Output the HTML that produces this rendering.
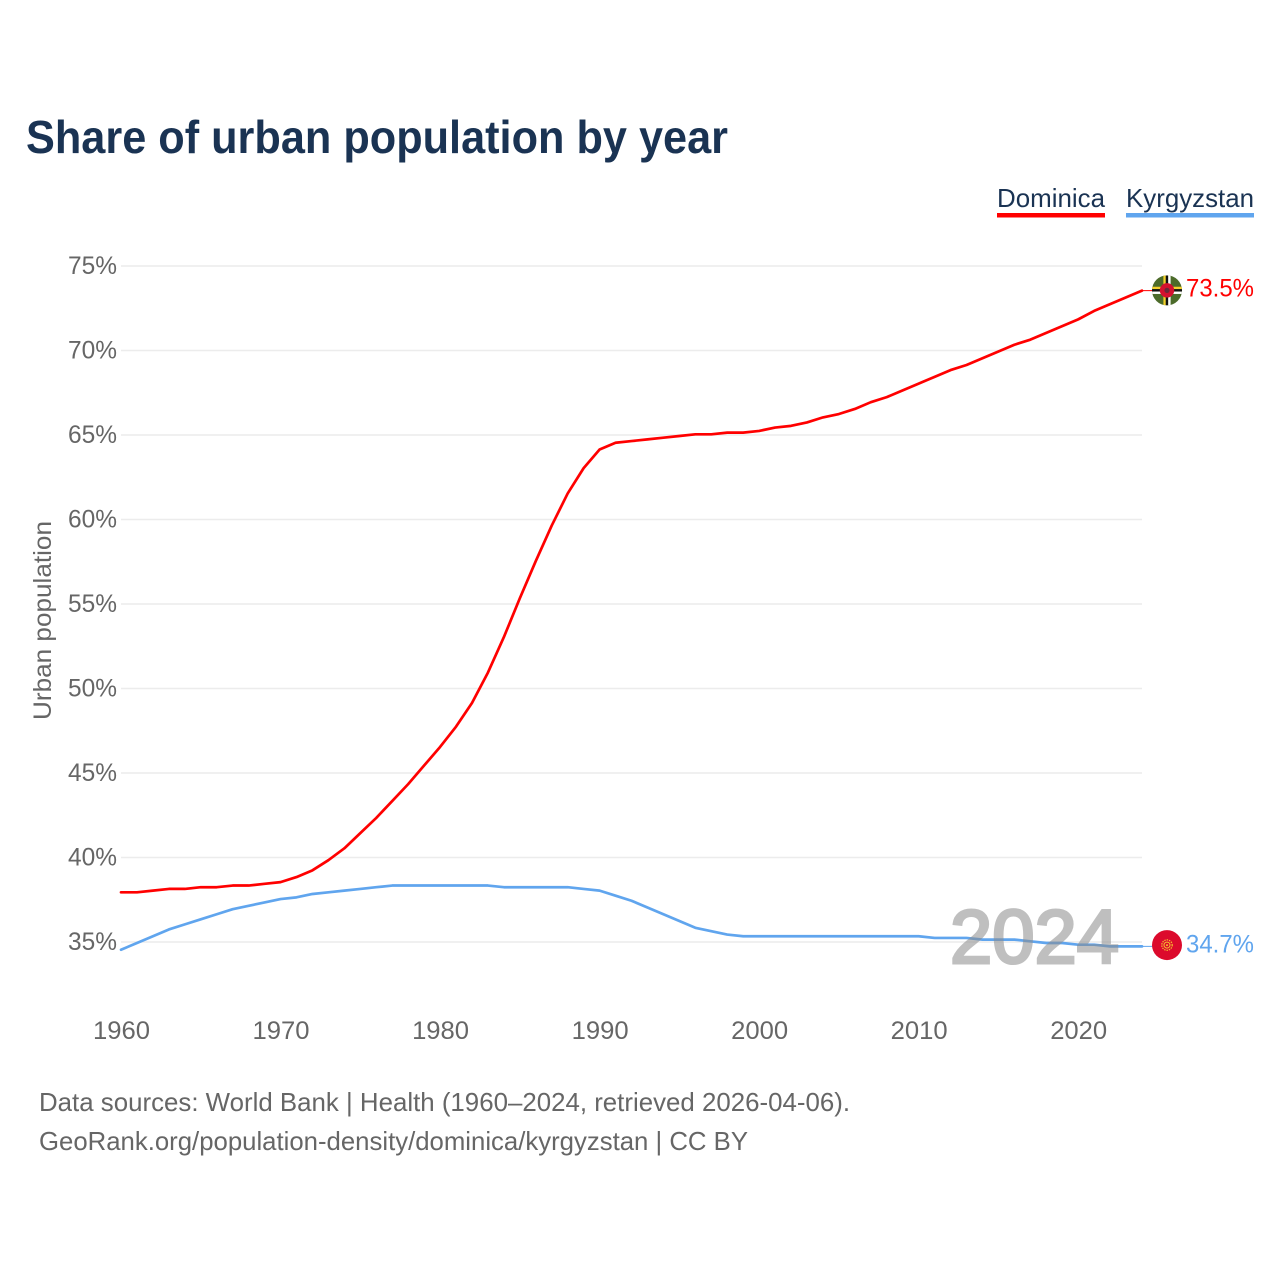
<!DOCTYPE html>
<html lang="en">
<head>
<meta charset="utf-8">
<title>Share of urban population by year</title>
<style>
html,body{margin:0;padding:0;background:#fff;width:1280px;height:1280px;overflow:hidden}
svg{display:block}
text{font-family:"Liberation Sans",sans-serif}
</style>
</head>
<body>
<svg id="chart" width="1280" height="1280" viewBox="0 0 1280 1280" xmlns="http://www.w3.org/2000/svg">
  <rect x="0" y="0" width="1280" height="1280" fill="#fff"/>
  <text x="26" y="153" font-size="46" font-weight="700" fill="#1a3353" textLength="702" lengthAdjust="spacingAndGlyphs">Share of urban population by year</text>

  <g>
    <g>
      <text x="997" y="207" font-size="26" fill="#1a3353" textLength="108" lengthAdjust="spacingAndGlyphs">Dominica</text>
      <rect x="997" y="213" width="108" height="4.5" fill="#ff0000"/>
    </g>
    <g>
      <text x="1126" y="207" font-size="26" fill="#1a3353" textLength="128" lengthAdjust="spacingAndGlyphs">Kyrgyzstan</text>
      <rect x="1126" y="213" width="128" height="4.5" fill="#60a5ee"/>
    </g>
  </g>

  <g id="grid"></g>
  <g id="yticks"></g>
  <g id="xticks"></g>
  <text transform="translate(51 720) rotate(-90)" font-size="25" fill="#666" textLength="199" lengthAdjust="spacingAndGlyphs">Urban population</text>

  <g id="series" transform="translate(0 -0.7)"></g>

  <text x="950" y="963" font-size="76" font-weight="400" fill="#8c8c8c" stroke="#8c8c8c" stroke-width="3" opacity="0.55" textLength="169" lengthAdjust="spacingAndGlyphs">2024</text>

  <g id="flagDominica">
    <clipPath id="clipDm"><circle cx="0" cy="0" r="15"/></clipPath>
    <g clip-path="url(#clipDm)">
      <rect x="-15" y="-15" width="30" height="30" fill="#4c6b2a"/>
      <rect x="-15" y="-3.6" width="30" height="2.4" fill="#f4d02c"/>
      <rect x="-15" y="-1.2" width="30" height="2.4" fill="#111"/>
      <rect x="-15" y="1.2" width="30" height="2.4" fill="#fff"/>
      <rect x="-3.6" y="-15" width="2.4" height="30" fill="#f4d02c"/>
      <rect x="-1.2" y="-15" width="2.4" height="30" fill="#111"/>
      <rect x="1.2" y="-15" width="2.4" height="30" fill="#fff"/>
      <circle cx="0" cy="0" r="7.2" fill="#d4112f"/>
      <circle cx="0" cy="0" r="2.6" fill="#6b2a3a"/>
    </g>
  </g>
  <g id="flagKyrgyzstan">
    <circle cx="0" cy="0" r="15" fill="#dc0a2c"/>
    <circle cx="0" cy="0" r="5.2" fill="none" stroke="#f6c52e" stroke-width="1.2" stroke-dasharray="1.4 1"/>
    <circle cx="0" cy="0" r="3" fill="none" stroke="#f6c52e" stroke-width="1"/>
    <circle cx="0" cy="0" r="1" fill="#f6c52e"/>
  </g>

  <text id="labelDominica" x="1186" font-size="25" fill="#ff0000" textLength="68" lengthAdjust="spacingAndGlyphs">73.5%</text>
  <text id="labelKyrgyzstan" x="1186" font-size="25" fill="#60a5ee" textLength="68" lengthAdjust="spacingAndGlyphs">34.7%</text>

  <text x="39" y="1111" font-size="26" fill="#666" textLength="811" lengthAdjust="spacingAndGlyphs">Data sources: World Bank | Health (1960–2024, retrieved 2026-04-06).</text>
  <a><text x="39" y="1150" font-size="26" fill="#666" textLength="709" lengthAdjust="spacingAndGlyphs">GeoRank.org/population-density/dominica/kyrgyzstan | CC BY</text></a>
</svg>
<script>
var startYear = 1960;
var dominica = [37.9,37.9,38.0,38.1,38.1,38.2,38.2,38.3,38.3,38.4,38.5,38.8,39.2,39.8,40.5,41.4,42.3,43.3,44.3,45.4,46.5,47.7,49.1,50.9,53.0,55.3,57.5,59.6,61.5,63.0,64.1,64.5,64.6,64.7,64.8,64.9,65.0,65.0,65.1,65.1,65.2,65.4,65.5,65.7,66.0,66.2,66.5,66.9,67.2,67.6,68.0,68.4,68.8,69.1,69.5,69.9,70.3,70.6,71.0,71.4,71.8,72.3,72.7,73.1,73.5];
var kyrgyzstan = [34.5,34.9,35.3,35.7,36.0,36.3,36.6,36.9,37.1,37.3,37.5,37.6,37.8,37.9,38.0,38.1,38.2,38.3,38.3,38.3,38.3,38.3,38.3,38.3,38.2,38.2,38.2,38.2,38.2,38.1,38.0,37.7,37.4,37.0,36.6,36.2,35.8,35.6,35.4,35.3,35.3,35.3,35.3,35.3,35.3,35.3,35.3,35.3,35.3,35.3,35.3,35.2,35.2,35.2,35.1,35.1,35.1,35.0,34.9,34.9,34.8,34.8,34.7,34.7,34.7];
var yTickValues = [35,40,45,50,55,60,65,70,75];
var xTickValues = [1960,1970,1980,1990,2000,2010,2020];

var NS = 'http://www.w3.org/2000/svg';
function xScale(year){ return 121 + (year - 1960) * (1142 - 121) / 64; }
function yScale(v){ return 942 - (v - 35) * (942 - 266) / 40; }
function make(tag, attrs, parent){
  var el = document.createElementNS(NS, tag);
  for (var k in attrs) el.setAttribute(k, attrs[k]);
  parent.appendChild(el);
  return el;
}
var grid = document.getElementById('grid');
var yticks = document.getElementById('yticks');
var xticks = document.getElementById('xticks');
var series = document.getElementById('series');

yTickValues.forEach(function(v){
  var line = make('line', {x1:121, x2:1142, y1:yScale(v), y2:yScale(v), stroke:'#ececec', 'stroke-width':1.6}, grid);
  
  
  var t = make('text', {x:117, y:yScale(v)+8, 'text-anchor':'end', 'font-size':25, fill:'#666', textLength:49, lengthAdjust:'spacingAndGlyphs'}, yticks);
  
  
  t.textContent = v + '%';
});

xTickValues.forEach(function(y){
  var t = make('text', {x:xScale(y)+0.5, y:1039, 'text-anchor':'middle', 'font-size':25, fill:'#666', textLength:57, lengthAdjust:'spacingAndGlyphs'}, xticks);
  
  
  t.textContent = y;
});

function drawSeries(values, color, name){
  var pts = values.map(function(v, i){ return xScale(startYear + i).toFixed(2) + ',' + yScale(v).toFixed(2); }).join(' ');
  var line = make('polyline', {points:pts, fill:'none', stroke:color, 'stroke-width':2.7, 'stroke-linejoin':'round', 'stroke-linecap':'round'}, series);
  
  
  var lastY = yScale(values[values.length - 1]);
  var conn = make('line', {x1:1142, x2:1167, y1:lastY, y2:lastY, stroke:color, 'stroke-width':1}, series);
  
  
  return lastY;
}
var dmY = drawSeries(dominica, '#ff0000', 'line-dominica');
var kgY = drawSeries(kyrgyzstan, '#60a5ee', 'line-kyrgyzstan');

document.getElementById('flagDominica').setAttribute('transform', 'translate(1167 ' + (dmY - 1) + ')');
document.getElementById('flagKyrgyzstan').setAttribute('transform', 'translate(1167 ' + (kgY - 2) + ')');
document.getElementById('labelDominica').setAttribute('y', dmY + 5);
document.getElementById('labelKyrgyzstan').setAttribute('y', kgY + 5.5);
</script>
</body>
</html>
